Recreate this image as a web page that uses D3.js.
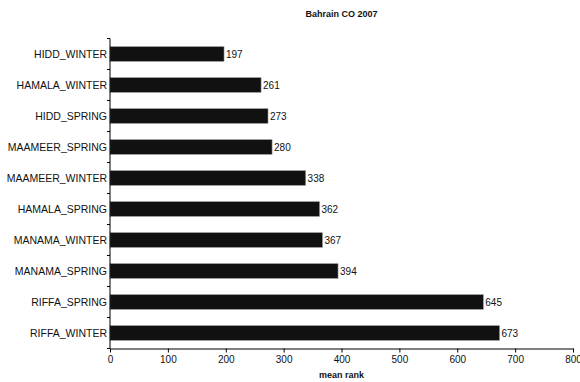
<!DOCTYPE html>
<html>
<head>
<meta charset="utf-8">
<script src="https://cdn.jsdelivr.net/npm/d3@7"></script>
<style>
  html, body { margin: 0; padding: 0; background: #fff; }
  svg { display: block; }
  text { font-family: "Liberation Sans", Arial, sans-serif; fill: #111; }
</style>
</head>
<body>
<svg id="chart" width="580" height="382"></svg>
<script>
// Mean rank of CO readings per site and season, Bahrain 2007
const categories = [
  "HIDD_WINTER", "HAMALA_WINTER", "HIDD_SPRING", "MAAMEER_SPRING",
  "MAAMEER_WINTER", "HAMALA_SPRING", "MANAMA_WINTER", "MANAMA_SPRING",
  "RIFFA_SPRING", "RIFFA_WINTER"
];
const meanRank = [197, 261, 273, 280, 338, 362, 367, 394, 645, 673];
const xTicks = [0, 100, 200, 300, 400, 500, 600, 700, 800];

const svg = d3.select("#chart");
const margin = { left: 110, right: 7, top: 38.5, bottom: 33.5 };
const W = 580, H = 382;

const x = d3.scaleLinear().domain([0, 800]).range([margin.left, W - margin.right]);
const y = d3.scaleBand().domain(categories).range([margin.top, H - margin.bottom]).paddingInner(0.53).paddingOuter(0.265);
const yEdges = d3.scaleBand().domain(categories).range([margin.top, H - margin.bottom]);

// Title
svg.append("text")
  .attr("x", (x(0) + x(800)) / 2).attr("y", 17)
  .attr("text-anchor", "middle").attr("font-size", 9).attr("font-weight", "bold")
  .text("Bahrain CO 2007");

// Bars
const rows = categories.map((c, i) => ({ c, v: meanRank[i] }));
svg.append("g").selectAll("rect").data(rows).join("rect")
  .attr("x", x(0)).attr("y", d => y(d.c))
  .attr("width", d => x(d.v) - x(0)).attr("height", y.bandwidth())
  .attr("fill", "#111").attr("stroke", "#8a8a8a").attr("stroke-width", 0.6);

// Value labels
svg.append("g").selectAll("text").data(rows).join("text")
  .attr("x", d => x(d.v) + 2).attr("y", d => y(d.c) + y.bandwidth() / 2)
  .attr("dy", "0.35em").attr("font-size", 10)
  .text(d => d.v);

// Category axis: ticks at band boundaries, labels centered in bands
const yAxis = svg.append("g");
yAxis.append("line")
  .attr("x1", x(0)).attr("x2", x(0))
  .attr("y1", margin.top).attr("y2", H - margin.bottom)
  .attr("stroke", "#000").attr("stroke-width", 1);
const edges = categories.map(c => yEdges(c)).concat([H - margin.bottom]);
yAxis.selectAll("line.tick").data(edges).join("line").attr("class", "tick")
  .attr("x1", x(0) - 3).attr("x2", x(0))
  .attr("y1", d => d).attr("y2", d => d)
  .attr("stroke", "#000");
yAxis.selectAll("text").data(categories).join("text")
  .attr("x", x(0) - 3).attr("y", d => yEdges(d) + yEdges.bandwidth() / 2)
  .attr("dy", "0.35em").attr("text-anchor", "end").attr("font-size", 10.5)
  .text(d => d);

// Value axis
const xAxis = svg.append("g")
  .attr("transform", `translate(0,${H - margin.bottom})`)
  .call(d3.axisBottom(x).tickValues(xTicks).tickSize(4).tickPadding(3).tickSizeOuter(0));
xAxis.select(".domain").attr("stroke", "#000");
xAxis.selectAll(".tick line").attr("stroke", "#000");
xAxis.selectAll(".tick text").attr("font-size", 10).attr("font-family", "Liberation Sans, Arial, sans-serif").attr("fill", "#111");

svg.append("text")
  .attr("x", (x(0) + x(800)) / 2).attr("y", 378)
  .attr("text-anchor", "middle").attr("font-size", 9).attr("font-weight", "bold")
  .text("mean rank");
</script>
</body>
</html>
